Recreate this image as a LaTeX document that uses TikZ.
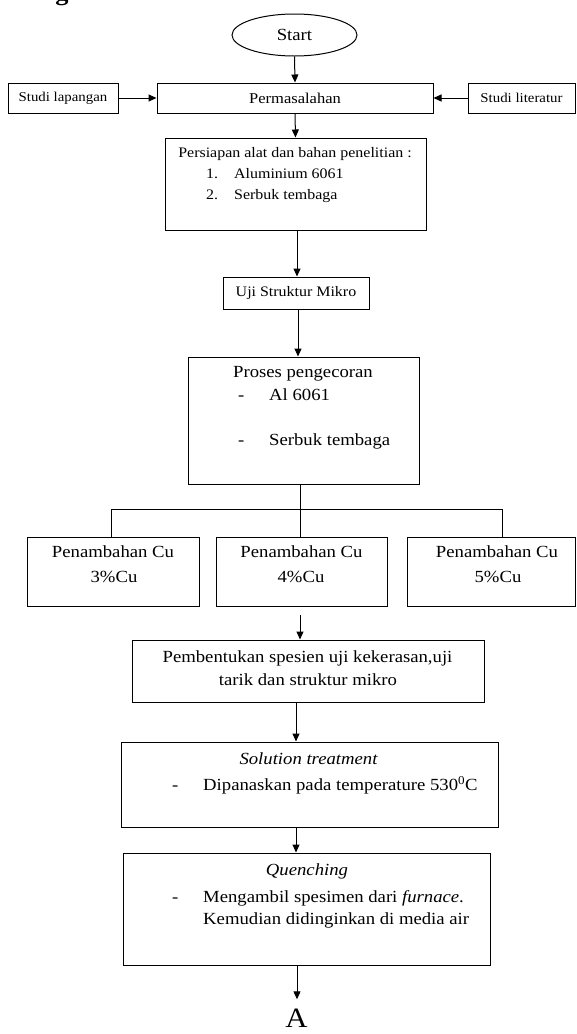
\documentclass[tikz,border=0pt]{standalone}
\usepackage{fontspec}
\setmainfont{Liberation Serif}[FakeStretch=1.1]
\usetikzlibrary{arrows.meta,shapes.geometric}
\newcommand{\fs}[1]{\fontsize{#1}{#1}\selectfont}
\tikzset{
  box/.style={draw, line width=1pt, rectangle, inner sep=0pt},
  txt/.style={inner sep=0pt, anchor=mid},
  txtw/.style={inner sep=0pt, anchor=mid west},
  arr/.style={-{Triangle[length=8pt,width=7pt]}, line width=1pt},
  ln/.style={line width=1pt},
}
\begin{document}
\begin{tikzpicture}[x=1pt,y=-1pt]
\useasboundingbox (0,0) rectangle (576,1034);
\clip (0,0) rectangle (576,1034);
% heading fragment
\node[inner sep=0pt, anchor=base] (hd) at (62,0) {\fs{24}\bfseries g};
% top row
\node[draw, line width=1pt, ellipse, minimum width=125pt, minimum height=42pt, inner sep=0pt] (start) at (294.5,35) {\fs{17}Start};
\node[box, minimum width=276pt, minimum height=30pt] (perm) at (295,98) {\fs{15}Permasalahan};
\node[box, minimum width=110pt, minimum height=30pt] (lap) at (63,98) {\fs{13.5}Studi lapangan};
\node[box, minimum width=107pt, minimum height=30pt] (lit) at (521.5,98) {\fs{13.5}Studi literatur};
\draw[arr] (start.south) -- (perm.north);
\draw[arr] (lap.east) -- (perm.west);
\draw[arr] (lit.west) -- (perm.east);
% persiapan
\node[box, minimum width=261pt, minimum height=92pt] (pers) at (295.5,184) {};
\node[txt] (pers1) at (295,155) {\fs{14.5}Persiapan alat dan bahan penelitian :};
\node[txtw] (pers2a) at (206,176) {\fs{14.5}1.};
\node[txtw] (pers2b) at (234,176) {\fs{14.5}Aluminium 6061};
\node[txtw] (pers3a) at (206,197) {\fs{14.5}2.};
\node[txtw] (pers3b) at (234,197) {\fs{14.5}Serbuk tembaga};
\draw[arr] (perm.south) -- (pers.north);
% uji
\node[box, minimum width=146pt, minimum height=32pt] (uji) at (296,293) {\fs{14.5}Uji Struktur Mikro};
\coordinate (c1) at (297,0);
\draw[arr] (c1 |- pers.south) -- (c1 |- uji.north);
% proses
\node[box, minimum width=231pt, minimum height=127pt] (pros) at (303.5,420.5) {};
\node[txt] (pros1) at (303,375) {\fs{17}Proses pengecoran};
\node[txtw] (pros2a) at (238,398) {\fs{17}-};
\node[txtw] (pros2b) at (269,398) {\fs{17}Al 6061};
\node[txtw] (pros3a) at (238,443) {\fs{17}-};
\node[txtw] (pros3b) at (269,443) {\fs{17}Serbuk tembaga};
\coordinate (c2) at (298,0);
\draw[arr] (c2 |- uji.south) -- (c2 |- pros.north);
% three boxes
\node[box, minimum width=172pt, minimum height=69pt] (pen1) at (113,571.5) {};
\node[box, minimum width=171pt, minimum height=69pt] (pen2) at (301.5,571.5) {};
\node[box, minimum width=168pt, minimum height=69pt] (pen3) at (491,571.5) {};
\node[txt] (pen1a) at (113,555) {\fs{17}Penambahan Cu};
\node[txt] (pen1b) at (114,580) {\fs{17}3\%Cu};
\node[txt] (pen2a) at (301.5,555) {\fs{17}Penambahan Cu};
\node[txt] (pen2b) at (301,580) {\fs{17}4\%Cu};
\node[txt] (pen3a) at (497,555) {\fs{17}Penambahan Cu};
\node[txt] (pen3b) at (498,580) {\fs{17}5\%Cu};
\coordinate (j) at (300,509);
\coordinate (jl) at (111,509);
\coordinate (jr) at (502,509);
\draw[ln] (j |- pros.south) -- (j |- pen2.north);
\draw[ln] (jl |- pen1.north) -- (jl) -- (jr) -- (jr |- pen3.north);
% pembentukan
\node[box, minimum width=352pt, minimum height=62pt] (pemb) at (308,671) {};
\node[txt] (pemb1) at (307.5,660) {\fs{17}Pembentukan spesien uji kekerasan,uji};
\node[txt] (pemb2) at (308,683) {\fs{17}tarik dan struktur mikro};
\coordinate (a1) at (300,615);
\draw[arr] (a1) -- (a1 |- pemb.north);
% solution
\node[box, minimum width=377pt, minimum height=85pt] (sol) at (309.5,784.5) {};
\node[txt] (sol1) at (308.5,762) {\fs{17}\itshape Solution treatment};
\node[txtw] (sol2a) at (172,788) {\fs{17}-};
\node[txtw] (sol2b) at (203,788) {\fs{17}Dipanaskan pada temperature 530\textsuperscript{0}C};
\coordinate (c3) at (296,0);
\draw[arr] (c3 |- pemb.south) -- (c3 |- sol.north);
% quenching
\node[box, minimum width=367pt, minimum height=112pt] (que) at (306.5,909) {};
\node[txt] (que1) at (307,873) {\fs{17}\itshape Quenching};
\node[txtw] (que2a) at (172,900) {\fs{17}-};
\node[txtw] (que2b) at (203,900) {\fs{17}Mengambil spesimen dari \textit{furnace}.};
\node[txtw] (que3) at (203,922) {\fs{17}Kemudian didinginkan di media air};
\draw[arr] (c3 |- sol.south) -- (c3 |- que.north);
% A
\node[inner sep=0pt, anchor=base] (A) at (296.5,1027) {\fs{28}A};
\coordinate (c4) at (297,0);
\draw[arr, shorten >=9pt] (c4 |- que.south) -- (c4 |- A.north);
\end{tikzpicture}
\end{document}
